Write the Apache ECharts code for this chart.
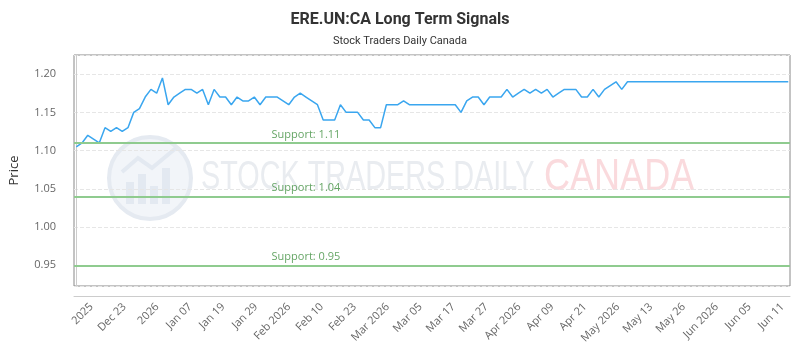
<!DOCTYPE html>
<html>
<head>
<meta charset="utf-8">
<title>ERE.UN:CA Long Term Signals</title>
<script src="https://cdn.jsdelivr.net/npm/echarts@6/dist/echarts.min.js"></script>
<style>
  html, body { margin: 0; padding: 0; background: #fff; }
  #chart { width: 800px; height: 350px; }
</style>
</head>
<body>
<div id="chart"></div>
<script>
// closing prices, one per session
const prices = [
  1.105, 1.11, 1.12, 1.115, 1.11, 1.13, 1.125, 1.13, 1.125, 1.13,
  1.15, 1.155, 1.17, 1.18, 1.175, 1.195, 1.16, 1.17, 1.175, 1.18,
  1.18, 1.175, 1.18, 1.16, 1.18, 1.17, 1.17, 1.16, 1.17, 1.165,
  1.165, 1.17, 1.16, 1.17, 1.17, 1.17, 1.165, 1.16, 1.17, 1.175,
  1.17, 1.165, 1.16, 1.14, 1.14, 1.14, 1.16, 1.15, 1.15, 1.15,
  1.14, 1.14, 1.13, 1.13, 1.16, 1.16, 1.16, 1.165, 1.16, 1.16,
  1.16, 1.16, 1.16, 1.16, 1.16, 1.16, 1.16, 1.15, 1.165, 1.17,
  1.17, 1.16, 1.17, 1.17, 1.17, 1.18, 1.17, 1.175, 1.18, 1.175,
  1.18, 1.175, 1.18, 1.17, 1.175, 1.18, 1.18, 1.18, 1.17, 1.17,
  1.18, 1.17, 1.18, 1.185, 1.19, 1.18, 1.19, 1.19, 1.19, 1.19,
  1.19, 1.19, 1.19, 1.19, 1.19, 1.19, 1.19, 1.19, 1.19, 1.19,
  1.19, 1.19, 1.19, 1.19, 1.19, 1.19, 1.19, 1.19, 1.19, 1.19,
  1.19, 1.19, 1.19, 1.19, 1.19
];
const tickLabels = [
  "2025", "Dec 23", "2026", "Jan 07", "Jan 19", "Jan 29", "Feb 2026", "Feb 10",
  "Feb 23", "Mar 2026", "Mar 05", "Mar 17", "Mar 27", "Apr 2026", "Apr 09",
  "Apr 21", "May 2026", "May 13", "May 26", "Jun 2026", "Jun 05", "Jun 11"
];
const supportLevels = [1.11, 1.04, 0.95];
const supportLabelAt = 40; // session index where the support text sits

const chart = echarts.init(document.getElementById("chart"));

const axisFont = '"Open Sans", sans-serif';

let option = {
  animation: false,
  title: [
    {
      text: "ERE.UN:CA Long Term Signals",
      left: "center",
      top: 7,
      textStyle: { fontFamily: "Roboto", fontSize: 16, fontWeight: "bold", color: "#333" },
    },
    {
      text: "Stock Traders Daily Canada",
      left: "center",
      top: 31,
      textStyle: { fontFamily: "Roboto", fontSize: 11, fontWeight: "normal", color: "#333" },
    },
  ],
  // faint watermark behind the plot
  graphic: [
    {
      type: "circle",
      shape: { cx: 150, cy: 178, r: 41 },
      style: { fill: "#f2f5f9", stroke: "#e5eaf1", lineWidth: 4 },
      silent: true,
    },
    { type: "rect", shape: { x: 126, y: 182, width: 8, height: 22 }, style: { fill: "#e3e9f1" }, silent: true },
    { type: "rect", shape: { x: 138, y: 174, width: 8, height: 30 }, style: { fill: "#e3e9f1" }, silent: true },
    { type: "rect", shape: { x: 150, y: 186, width: 8, height: 18 }, style: { fill: "#e3e9f1" }, silent: true },
    { type: "rect", shape: { x: 162, y: 168, width: 8, height: 36 }, style: { fill: "#e3e9f1" }, silent: true },
    {
      type: "polyline",
      shape: { points: [[122, 172], [138, 158], [152, 168], [176, 148]] },
      style: { stroke: "#e3e9f1", lineWidth: 4, fill: null },
      silent: true,
    },
    {
      type: "text",
      x: 201,
      y: 178,
      scaleX: 0.96,
      scaleY: 1.35,
      style: {
        text: "STOCK TRADERS DAILY",
        font: '30px "Liberation Sans", sans-serif',
        fill: "#e9ecf0",
        verticalAlign: "middle",
      },
      silent: true,
    },
    {
      type: "text",
      x: 544,
      y: 178,
      scaleX: 1.06,
      scaleY: 1.3,
      style: {
        text: "CANADA",
        font: '34px "Liberation Sans", sans-serif',
        fill: "#fadadd",
        verticalAlign: "middle",
      },
      silent: true,
    },
  ],
  grid: [
    { left: 70, right: 10, top: 55, bottom: 64, show: true, borderColor: "#888", borderWidth: 1 },
    { left: 91.5, right: 17.5, top: 55, bottom: 64, show: false },
  ],
  xAxis: [
    {
      type: "value",
      gridIndex: 0,
      min: -0.4,
      max: prices.length - 1 + 0.3,
      offset: 10,
      axisLine: { show: true, onZero: false, lineStyle: { color: "#ccc" } },
      axisTick: { show: false },
      axisLabel: { show: false },
      splitLine: { show: false },
    },
    {
      // tick labels only, spread evenly under the plot
      type: "category",
      gridIndex: 1,
      data: tickLabels,
      boundaryGap: false,
      offset: 10,
      axisLine: { show: false },
      axisTick: { show: false },
      splitLine: { show: false },
      axisLabel: {
        interval: 0,
        rotate: 45,
        margin: 9,
        fontFamily: axisFont,
        fontSize: 11,
        color: "#666",
      },
    },
  ],
  yAxis: [
    {
      type: "value",
      gridIndex: 0,
      min: 0.923,
      max: 1.225,
      splitNumber: 5,
      offset: 10,
      name: "Price",
      nameLocation: "middle",
      nameGap: 43,
      nameTextStyle: { fontFamily: axisFont, fontSize: 13, color: "#333" },
      axisLine: { show: true, lineStyle: { color: "#ccc" } },
      axisTick: { show: false },
      axisLabel: {
        showMinLabel: false,
        showMaxLabel: false,
        margin: 8,
        fontFamily: axisFont,
        fontSize: 11,
        color: "#666",
        formatter: (v) => v.toFixed(2),
      },
      splitLine: { show: true, lineStyle: { color: "#e6e6e6", type: "dashed" } },
    },
    { type: "value", gridIndex: 1, show: false },
  ],
  series: [
    {
      name: "Price",
      type: "line",
      xAxisIndex: 0,
      yAxisIndex: 0,
      data: prices.map((v, i) => [i, v]),
      showSymbol: false,
      symbol: "none",
      lineStyle: { color: "#3aa6ef", width: 1.5 },
      z: 3,
      markLine: {
        silent: true,
        symbol: "none",
        label: { show: false },
        lineStyle: { color: "#8fcb8f", width: 2, type: "solid" },
        data: supportLevels.map((v) => ({ yAxis: v })),
      },
    },
    {
      name: "Support",
      type: "scatter",
      xAxisIndex: 0,
      yAxisIndex: 0,
      symbolSize: 0,
      silent: true,
      data: supportLevels.map((v) => [supportLabelAt, v]),
      label: {
        show: true,
        position: "top",
        distance: 3,
        fontFamily: axisFont,
        fontSize: 11,
        color: "#3f8f3f",
        formatter: (p) => "Support: " + p.value[1].toFixed(2),
      },
      z: 4,
    },
  ],
};

chart.setOption(option);
</script>
</body>
</html>
